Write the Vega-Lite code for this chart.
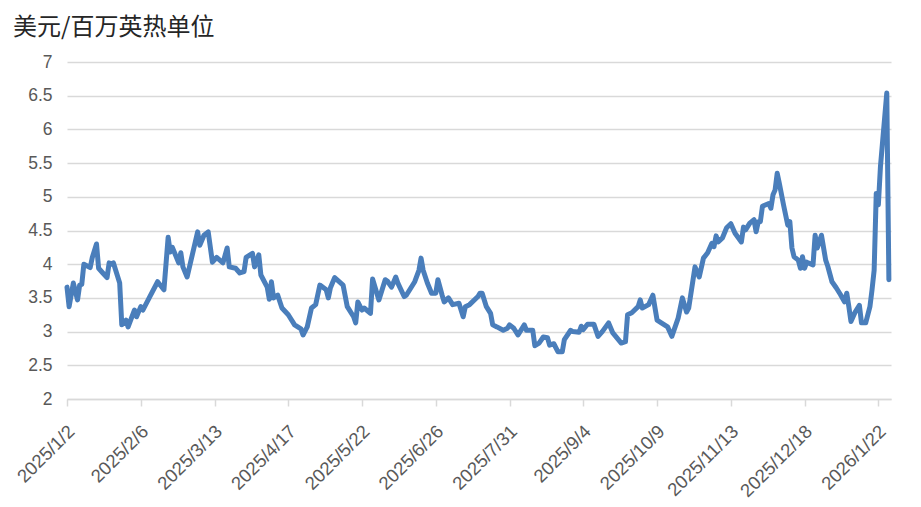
{
  "$schema": "https://vega.github.io/schema/vega-lite/v6.json",
  "width": 824,
  "height": 337,
  "autosize": {"type": "none"},
  "padding": {"left": 67, "top": 62, "right": 30, "bottom": 108},
  "background": "white",
  "title": {"text": "美元/百万英热单位", "anchor": "start", "frame": "group", "dx": -54, "offset": 13, "fontSize": 24, "font": "Noto Sans CJK SC", "fontWeight": "normal", "color": "#262626"},
  "data": {"values": [
    {"date": "2025-01-02", "price": 3.66},
    {"date": "2025-01-03", "price": 3.37},
    {"date": "2025-01-05", "price": 3.72},
    {"date": "2025-01-07", "price": 3.47},
    {"date": "2025-01-08", "price": 3.69},
    {"date": "2025-01-09", "price": 3.70},
    {"date": "2025-01-10", "price": 4.00},
    {"date": "2025-01-13", "price": 3.95},
    {"date": "2025-01-14", "price": 4.10},
    {"date": "2025-01-16", "price": 4.30},
    {"date": "2025-01-17", "price": 3.94},
    {"date": "2025-01-19", "price": 3.87},
    {"date": "2025-01-21", "price": 3.80},
    {"date": "2025-01-22", "price": 4.02},
    {"date": "2025-01-23", "price": 4.00},
    {"date": "2025-01-24", "price": 4.02},
    {"date": "2025-01-27", "price": 3.72},
    {"date": "2025-01-28", "price": 3.10},
    {"date": "2025-01-30", "price": 3.17},
    {"date": "2025-01-31", "price": 3.07},
    {"date": "2025-02-03", "price": 3.32},
    {"date": "2025-02-04", "price": 3.22},
    {"date": "2025-02-06", "price": 3.37},
    {"date": "2025-02-07", "price": 3.32},
    {"date": "2025-02-10", "price": 3.50},
    {"date": "2025-02-14", "price": 3.74},
    {"date": "2025-02-17", "price": 3.62},
    {"date": "2025-02-19", "price": 4.40},
    {"date": "2025-02-20", "price": 4.18},
    {"date": "2025-02-21", "price": 4.25},
    {"date": "2025-02-24", "price": 4.02},
    {"date": "2025-02-25", "price": 4.17},
    {"date": "2025-02-26", "price": 3.96},
    {"date": "2025-02-28", "price": 3.81},
    {"date": "2025-03-05", "price": 4.48},
    {"date": "2025-03-06", "price": 4.28},
    {"date": "2025-03-08", "price": 4.43},
    {"date": "2025-03-10", "price": 4.48},
    {"date": "2025-03-12", "price": 4.03},
    {"date": "2025-03-14", "price": 4.10},
    {"date": "2025-03-17", "price": 4.02},
    {"date": "2025-03-19", "price": 4.24},
    {"date": "2025-03-20", "price": 3.96},
    {"date": "2025-03-23", "price": 3.94},
    {"date": "2025-03-25", "price": 3.87},
    {"date": "2025-03-27", "price": 3.89},
    {"date": "2025-03-28", "price": 4.10},
    {"date": "2025-03-31", "price": 4.16},
    {"date": "2025-04-01", "price": 3.96},
    {"date": "2025-04-03", "price": 4.14},
    {"date": "2025-04-04", "price": 3.84},
    {"date": "2025-04-07", "price": 3.66},
    {"date": "2025-04-08", "price": 3.48},
    {"date": "2025-04-09", "price": 3.74},
    {"date": "2025-04-10", "price": 3.50},
    {"date": "2025-04-12", "price": 3.54},
    {"date": "2025-04-14", "price": 3.35},
    {"date": "2025-04-17", "price": 3.25},
    {"date": "2025-04-20", "price": 3.10},
    {"date": "2025-04-23", "price": 3.04},
    {"date": "2025-04-24", "price": 2.95},
    {"date": "2025-04-26", "price": 3.07},
    {"date": "2025-04-28", "price": 3.35},
    {"date": "2025-04-30", "price": 3.40},
    {"date": "2025-05-02", "price": 3.69},
    {"date": "2025-05-05", "price": 3.62},
    {"date": "2025-05-06", "price": 3.50},
    {"date": "2025-05-07", "price": 3.65},
    {"date": "2025-05-09", "price": 3.80},
    {"date": "2025-05-13", "price": 3.69},
    {"date": "2025-05-15", "price": 3.37},
    {"date": "2025-05-18", "price": 3.22},
    {"date": "2025-05-19", "price": 3.13},
    {"date": "2025-05-20", "price": 3.44},
    {"date": "2025-05-22", "price": 3.32},
    {"date": "2025-05-23", "price": 3.35},
    {"date": "2025-05-26", "price": 3.27},
    {"date": "2025-05-27", "price": 3.78},
    {"date": "2025-05-30", "price": 3.47},
    {"date": "2025-06-02", "price": 3.77},
    {"date": "2025-06-03", "price": 3.75},
    {"date": "2025-06-05", "price": 3.66},
    {"date": "2025-06-07", "price": 3.81},
    {"date": "2025-06-08", "price": 3.72},
    {"date": "2025-06-11", "price": 3.52},
    {"date": "2025-06-12", "price": 3.54},
    {"date": "2025-06-16", "price": 3.74},
    {"date": "2025-06-18", "price": 3.91},
    {"date": "2025-06-19", "price": 4.09},
    {"date": "2025-06-20", "price": 3.91},
    {"date": "2025-06-22", "price": 3.72},
    {"date": "2025-06-24", "price": 3.57},
    {"date": "2025-06-26", "price": 3.57},
    {"date": "2025-06-27", "price": 3.77},
    {"date": "2025-06-29", "price": 3.54},
    {"date": "2025-06-30", "price": 3.44},
    {"date": "2025-07-02", "price": 3.50},
    {"date": "2025-07-04", "price": 3.40},
    {"date": "2025-07-07", "price": 3.42},
    {"date": "2025-07-09", "price": 3.22},
    {"date": "2025-07-10", "price": 3.37},
    {"date": "2025-07-12", "price": 3.40},
    {"date": "2025-07-16", "price": 3.52},
    {"date": "2025-07-17", "price": 3.57},
    {"date": "2025-07-18", "price": 3.57},
    {"date": "2025-07-20", "price": 3.37},
    {"date": "2025-07-22", "price": 3.27},
    {"date": "2025-07-23", "price": 3.10},
    {"date": "2025-07-25", "price": 3.07},
    {"date": "2025-07-28", "price": 3.02},
    {"date": "2025-07-30", "price": 3.05},
    {"date": "2025-07-31", "price": 3.10},
    {"date": "2025-08-02", "price": 3.05},
    {"date": "2025-08-04", "price": 2.95},
    {"date": "2025-08-07", "price": 3.10},
    {"date": "2025-08-08", "price": 3.02},
    {"date": "2025-08-11", "price": 3.02},
    {"date": "2025-08-12", "price": 2.79},
    {"date": "2025-08-14", "price": 2.83},
    {"date": "2025-08-16", "price": 2.92},
    {"date": "2025-08-18", "price": 2.91},
    {"date": "2025-08-19", "price": 2.80},
    {"date": "2025-08-21", "price": 2.82},
    {"date": "2025-08-23", "price": 2.70},
    {"date": "2025-08-25", "price": 2.70},
    {"date": "2025-08-26", "price": 2.88},
    {"date": "2025-08-29", "price": 3.02},
    {"date": "2025-08-30", "price": 3.00},
    {"date": "2025-09-02", "price": 2.99},
    {"date": "2025-09-03", "price": 3.08},
    {"date": "2025-09-04", "price": 3.03},
    {"date": "2025-09-06", "price": 3.11},
    {"date": "2025-09-09", "price": 3.11},
    {"date": "2025-09-11", "price": 2.93},
    {"date": "2025-09-13", "price": 3.00},
    {"date": "2025-09-16", "price": 3.13},
    {"date": "2025-09-18", "price": 2.98},
    {"date": "2025-09-22", "price": 2.83},
    {"date": "2025-09-24", "price": 2.85},
    {"date": "2025-09-25", "price": 3.25},
    {"date": "2025-09-27", "price": 3.28},
    {"date": "2025-09-30", "price": 3.37},
    {"date": "2025-10-01", "price": 3.47},
    {"date": "2025-10-02", "price": 3.35},
    {"date": "2025-10-05", "price": 3.40},
    {"date": "2025-10-07", "price": 3.54},
    {"date": "2025-10-09", "price": 3.17},
    {"date": "2025-10-11", "price": 3.13},
    {"date": "2025-10-14", "price": 3.07},
    {"date": "2025-10-16", "price": 2.93},
    {"date": "2025-10-19", "price": 3.20},
    {"date": "2025-10-21", "price": 3.50},
    {"date": "2025-10-23", "price": 3.29},
    {"date": "2025-10-24", "price": 3.35},
    {"date": "2025-10-27", "price": 3.96},
    {"date": "2025-10-29", "price": 3.81},
    {"date": "2025-10-31", "price": 4.09},
    {"date": "2025-11-02", "price": 4.17},
    {"date": "2025-11-04", "price": 4.31},
    {"date": "2025-11-05", "price": 4.26},
    {"date": "2025-11-06", "price": 4.42},
    {"date": "2025-11-07", "price": 4.33},
    {"date": "2025-11-09", "price": 4.39},
    {"date": "2025-11-11", "price": 4.54},
    {"date": "2025-11-13", "price": 4.60},
    {"date": "2025-11-15", "price": 4.46},
    {"date": "2025-11-18", "price": 4.33},
    {"date": "2025-11-19", "price": 4.55},
    {"date": "2025-11-20", "price": 4.51},
    {"date": "2025-11-22", "price": 4.61},
    {"date": "2025-11-24", "price": 4.66},
    {"date": "2025-11-25", "price": 4.48},
    {"date": "2025-11-26", "price": 4.63},
    {"date": "2025-11-27", "price": 4.63},
    {"date": "2025-11-28", "price": 4.86},
    {"date": "2025-12-01", "price": 4.90},
    {"date": "2025-12-02", "price": 4.83},
    {"date": "2025-12-03", "price": 5.03},
    {"date": "2025-12-04", "price": 5.10},
    {"date": "2025-12-05", "price": 5.35},
    {"date": "2025-12-06", "price": 5.20},
    {"date": "2025-12-08", "price": 4.88},
    {"date": "2025-12-10", "price": 4.58},
    {"date": "2025-12-11", "price": 4.63},
    {"date": "2025-12-12", "price": 4.24},
    {"date": "2025-12-13", "price": 4.11},
    {"date": "2025-12-15", "price": 4.06},
    {"date": "2025-12-16", "price": 3.94},
    {"date": "2025-12-17", "price": 4.11},
    {"date": "2025-12-18", "price": 3.94},
    {"date": "2025-12-19", "price": 4.03},
    {"date": "2025-12-22", "price": 3.99},
    {"date": "2025-12-23", "price": 4.43},
    {"date": "2025-12-24", "price": 4.24},
    {"date": "2025-12-26", "price": 4.43},
    {"date": "2025-12-28", "price": 4.06},
    {"date": "2025-12-29", "price": 3.97},
    {"date": "2025-12-31", "price": 3.74},
    {"date": "2026-01-02", "price": 3.65},
    {"date": "2026-01-04", "price": 3.55},
    {"date": "2026-01-06", "price": 3.44},
    {"date": "2026-01-07", "price": 3.57},
    {"date": "2026-01-08", "price": 3.37},
    {"date": "2026-01-09", "price": 3.15},
    {"date": "2026-01-11", "price": 3.29},
    {"date": "2026-01-13", "price": 3.39},
    {"date": "2026-01-14", "price": 3.13},
    {"date": "2026-01-16", "price": 3.13},
    {"date": "2026-01-18", "price": 3.37},
    {"date": "2026-01-19", "price": 3.62},
    {"date": "2026-01-20", "price": 3.91},
    {"date": "2026-01-21", "price": 5.05},
    {"date": "2026-01-22", "price": 4.88},
    {"date": "2026-01-23", "price": 5.45},
    {"date": "2026-01-26", "price": 6.54},
    {"date": "2026-01-27", "price": 3.77}
  ]},
  "mark": {"type": "line", "color": "#4a7ebb", "strokeWidth": 5, "strokeJoin": "round", "strokeCap": "round"},
  "encoding": {
    "x": {
      "field": "date",
      "type": "temporal",
      "scale": {"type": "utc", "domain": [{"year": 2025, "month": 1, "date": 2, "utc": true}, {"year": 2026, "month": 1, "date": 28, "utc": true}]},
      "axis": {
        "title": null,
        "values": [
          {"year": 2025, "month": 1, "date": 2, "utc": true},
          {"year": 2025, "month": 2, "date": 6, "utc": true},
          {"year": 2025, "month": 3, "date": 13, "utc": true},
          {"year": 2025, "month": 4, "date": 17, "utc": true},
          {"year": 2025, "month": 5, "date": 22, "utc": true},
          {"year": 2025, "month": 6, "date": 26, "utc": true},
          {"year": 2025, "month": 7, "date": 31, "utc": true},
          {"year": 2025, "month": 9, "date": 4, "utc": true},
          {"year": 2025, "month": 10, "date": 9, "utc": true},
          {"year": 2025, "month": 11, "date": 13, "utc": true},
          {"year": 2025, "month": 12, "date": 18, "utc": true},
          {"year": 2026, "month": 1, "date": 22, "utc": true}
        ],
        "labelExpr": "utcFormat(datum.value, '%Y/%-m/%-d')",
        "labelAngle": -45,
        "labelAlign": "right",
        "labelBaseline": "middle",
        "labelPadding": 22,
        "labelOffset": 4,
        "labelFont": "Liberation Sans",
        "labelFontSize": 18.5,
        "labelColor": "#595959",
        "labelOverlap": false,
        "labelBound": false,
        "labelFlush": false,
        "grid": false,
        "domainColor": "#d9d9d9",
        "domainWidth": 1.5,
        "tickColor": "#d9d9d9",
        "tickWidth": 1.5,
        "tickSize": 7
      }
    },
    "y": {
      "field": "price",
      "type": "quantitative",
      "scale": {"domain": [2, 7], "nice": false, "zero": false},
      "axis": {
        "title": null,
        "values": [2, 2.5, 3, 3.5, 4, 4.5, 5, 5.5, 6, 6.5, 7],
        "format": "~g",
        "grid": true,
        "gridColor": "#d9d9d9",
        "gridWidth": 1.5,
        "domain": false,
        "ticks": false,
        "labelPadding": 15,
        "labelFont": "Liberation Sans",
        "labelFontSize": 17.5,
        "labelColor": "#595959",
        "labelFlush": false
      }
    }
  },
  "config": {"view": {"stroke": null}}
}
